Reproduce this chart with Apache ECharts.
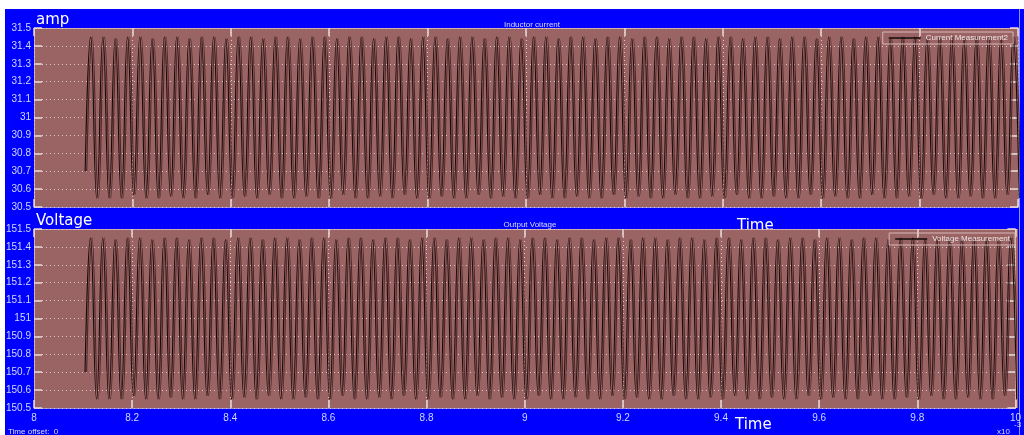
<!DOCTYPE html>
<html>
<head>
<meta charset="utf-8">
<style>
  html, body { margin: 0; padding: 0; background: #ffffff; }
  #chart { width: 1024px; height: 435px; }
</style>
<script src="https://cdn.jsdelivr.net/npm/echarts@6/dist/echarts.min.js"></script>
</head>
<body>
<div id="chart"></div>
<script>
// Time axis (units of 1e-3 s)
const xMin = 8, xMax = 10, xStep = 0.2;
// Scope samples: first sample, then alternating ripple peaks / troughs
const firstSampleTime = 8.104;
const peakTime0 = 8.115;      // time of first ripple peak
const halfPeriod = 0.0125;    // 40 kHz ripple -> 25 us period

// Inductor current (A)
const currentFirst = 30.70;
const currentPeaks = [
  31.45,31.45,31.44,31.45,31.45,31.44,31.45,31.45,31.44,31.45,
  31.45,31.44,31.45,31.45,31.44,31.45,31.45,31.44,31.45,31.45,
  31.44,31.45,31.45,31.44,31.45,31.45,31.44,31.45,31.45,31.44,
  31.45,31.45,31.44,31.45,31.45,31.44,31.45,31.45,31.44,31.45,
  31.45,31.44,31.45,31.45,31.44,31.45,31.45,31.44,31.45,31.45,
  31.44,31.45,31.45,31.44,31.45,31.45,31.44,31.45,31.45,31.44,
  31.45,31.45,31.44,31.45,31.45,31.44,31.45,31.45,31.44,31.45,
  31.45,31.44,31.45,31.45,31.44,31.45
];
const currentTroughs = [
  30.55,30.55,30.55,30.57,30.55,30.55,30.56,30.55,30.55,30.57,
  30.55,30.55,30.56,30.55,30.57,30.55,30.55,30.56,30.55,30.55,
  30.57,30.55,30.55,30.56,30.55,30.57,30.55,30.55,30.56,30.55,
  30.55,30.57,30.55,30.56,30.55,30.55,30.57,30.55,30.55,30.56,
  30.55,30.55,30.57,30.55,30.56,30.55,30.55,30.57,30.55,30.55,
  30.56,30.55,30.57,30.55,30.55,30.56,30.55,30.55,30.57,30.55,
  30.56,30.55,30.55,30.57,30.55,30.55,30.56,30.55,30.57,30.55,
  30.55,30.56,30.55,30.55,30.57,30.55
];

// Output voltage (V)
const voltageFirst = 150.70;
const voltagePeaks = [
  151.45,151.45,151.44,151.45,151.45,151.44,151.45,151.45,151.44,151.45,
  151.45,151.44,151.45,151.45,151.44,151.45,151.45,151.44,151.45,151.45,
  151.44,151.45,151.45,151.44,151.45,151.45,151.44,151.45,151.45,151.44,
  151.45,151.45,151.44,151.45,151.45,151.44,151.45,151.45,151.44,151.45,
  151.45,151.44,151.45,151.45,151.44,151.45,151.45,151.44,151.45,151.45,
  151.44,151.45,151.45,151.44,151.45,151.45,151.44,151.45,151.45,151.44,
  151.45,151.45,151.44,151.45,151.45,151.44,151.45,151.45,151.44,151.45,
  151.45,151.44,151.45,151.45,151.44,151.45
];
const voltageTroughs = [
  150.55,150.55,150.55,150.57,150.55,150.55,150.56,150.55,150.55,150.57,
  150.55,150.55,150.56,150.55,150.57,150.55,150.55,150.56,150.55,150.55,
  150.57,150.55,150.55,150.56,150.55,150.57,150.55,150.55,150.56,150.55,
  150.55,150.57,150.55,150.56,150.55,150.55,150.57,150.55,150.55,150.56,
  150.55,150.55,150.57,150.55,150.56,150.55,150.55,150.57,150.55,150.55,
  150.56,150.55,150.57,150.55,150.55,150.56,150.55,150.55,150.57,150.55,
  150.56,150.55,150.55,150.57,150.55,150.55,150.56,150.55,150.57,150.55,
  150.55,150.56,150.55,150.55,150.57,150.55
];

// Pair each peak/trough with its sample time on the 40 kHz grid
function buildTrace(firstVal, peaks, troughs) {
  const pts = [[firstSampleTime, firstVal]];
  for (let k = 0; k < peaks.length; k++) {
    pts.push([+(peakTime0 + 2 * k * halfPeriod).toFixed(5), peaks[k]]);
    pts.push([+(peakTime0 + (2 * k + 1) * halfPeriod).toFixed(5), troughs[k]]);
  }
  return pts;
}

const plotBg = '#9b6464';
const labelColor = '#cfd8ff';
const labelFont = 'Liberation Sans';
const tickColor = '#eadada';
const frameColor = 'rgba(225,200,200,0.7)';
const dotGrid = { show: true, lineStyle: { color: 'rgba(235,215,215,0.85)', width: 1, type: [1, 3] } };

// Panel boxes (pixels)
const panelLeft = 34, panelWidth = 984, panelHeight = 179;
const topPanelTop = 28, bottomPanelTop = 229;

function xAxisFor(gridIndex, pos, showLabels) {
  return {
    type: 'value', gridIndex, position: pos, min: xMin, max: xMax, interval: xStep,
    axisLine: { show: true, onZero: false, lineStyle: { color: frameColor } },
    axisTick: { show: true, inside: true, length: 8, lineStyle: { color: tickColor, width: 1.5 } },
    axisLabel: { show: showLabels, color: labelColor, fontSize: 10, fontFamily: labelFont, margin: 5,
                 formatter: v => String(+v.toFixed(1)) },
    splitLine: pos === 'bottom' ? dotGrid : { show: false }
  };
}
function yAxisFor(gridIndex, pos, lo, hi, showLabels) {
  return {
    type: 'value', gridIndex, position: pos, min: lo, max: hi, interval: 0.1,
    axisLine: { show: true, onZero: false, lineStyle: { color: frameColor } },
    axisTick: { show: true, inside: true, length: 8, lineStyle: { color: tickColor, width: 1.5 } },
    axisLabel: { show: showLabels, color: labelColor, fontSize: 10, fontFamily: labelFont, margin: 3,
                 formatter: v => String(+v.toFixed(1)) },
    splitLine: pos === 'left' ? dotGrid : { show: false }
  };
}

const traceLine = {
  color: '#150b0b', width: 1.1,
  shadowColor: 'rgba(75,35,35,0.95)', shadowOffsetX: 1.6, shadowBlur: 0
};

const bigText = { fill: '#ffffff', fontSize: 15, fontFamily: 'DejaVu Sans' };
const smallText = { fill: '#dcdcff', fontSize: 8, fontFamily: labelFont };

const chart = echarts.init(document.getElementById('chart'), null, { renderer: 'canvas' });
chart.setOption({
  backgroundColor: '#ffffff',
  animation: false,
  graphic: [
    // blue window background
    { type: 'rect', z: -100, shape: { x: 5, y: 9, width: 1019, height: 426 }, style: { fill: '#0000ff' } },
    { type: 'line', z: -99, shape: { x1: 1019.5, y1: 9, x2: 1019.5, y2: 435 }, style: { stroke: '#8f8fff', lineWidth: 1 } },
    // x-axis name of the upper panel, partly hidden behind the lower panel
    { type: 'text', z: -90, left: 737, top: 219, style: Object.assign({ text: 'Time' }, bigText) },
    // panel backgrounds
    { type: 'rect', z: -80, shape: { x: panelLeft, y: topPanelTop, width: panelWidth, height: panelHeight }, style: { fill: plotBg } },
    { type: 'rect', z: -80, shape: { x: panelLeft, y: bottomPanelTop, width: panelWidth, height: panelHeight }, style: { fill: plotBg } },
    // texts
    { type: 'text', left: 36, top: 13, style: Object.assign({ text: 'amp' }, bigText) },
    { type: 'text', left: 36, top: 214, style: Object.assign({ text: 'Voltage' }, bigText) },
    { type: 'text', left: 735, top: 418, style: Object.assign({ text: 'Time' }, bigText) },
    { type: 'text', left: 8, top: 428, style: Object.assign({ text: 'Time offset:  0' }, smallText) },
    { type: 'text', left: 997, top: 428, style: Object.assign({ text: 'x10' }, smallText) },
    { type: 'text', left: 1014, top: 421, style: Object.assign({ text: '-3' }, smallText) }
  ],
  title: [
    { text: 'Inductor current', left: 527, top: 16, textAlign: 'center',
      textStyle: { color: '#dcdcff', fontSize: 8, fontWeight: 'normal', fontFamily: labelFont } },
    { text: 'Output Voltage', left: 525, top: 216, textAlign: 'center',
      textStyle: { color: '#dcdcff', fontSize: 8, fontWeight: 'normal', fontFamily: labelFont } }
  ],
  grid: [
    { left: panelLeft, top: topPanelTop, width: panelWidth, height: panelHeight, show: false },
    { left: panelLeft, top: bottomPanelTop, width: panelWidth, height: panelHeight, show: false }
  ],
  xAxis: [
    xAxisFor(0, 'bottom', false), xAxisFor(0, 'top', false),
    xAxisFor(1, 'bottom', true), xAxisFor(1, 'top', false)
  ],
  yAxis: [
    yAxisFor(0, 'left', 30.5, 31.5, true), yAxisFor(0, 'right', 30.5, 31.5, false),
    yAxisFor(1, 'left', 150.5, 151.5, true), yAxisFor(1, 'right', 150.5, 151.5, false)
  ],
  legend: [
    { data: ['Current Measurement2'], right: 11, top: 32, orient: 'vertical',
      icon: 'rect', itemWidth: 32, itemHeight: 1.5, itemGap: 0,
      padding: [2, 5, 2, 6], borderColor: '#d8b8b8', borderWidth: 1,
      textStyle: { color: '#f0e4e4', fontSize: 8, fontFamily: labelFont } },
    { data: ['Voltage Measurement'], right: 9, top: 233, orient: 'vertical',
      icon: 'rect', itemWidth: 32, itemHeight: 1.5, itemGap: 0,
      padding: [2, 5, 2, 6], borderColor: '#d8b8b8', borderWidth: 1,
      textStyle: { color: '#f0e4e4', fontSize: 8, fontFamily: labelFont } }
  ],
  series: [
    { name: 'Current Measurement2', type: 'line', xAxisIndex: 0, yAxisIndex: 0,
      data: buildTrace(currentFirst, currentPeaks, currentTroughs),
      smooth: 0.5, showSymbol: false, symbol: 'none', clip: true,
      color: '#150b0b', lineStyle: traceLine },
    { name: 'Voltage Measurement', type: 'line', xAxisIndex: 2, yAxisIndex: 2,
      data: buildTrace(voltageFirst, voltagePeaks, voltageTroughs),
      smooth: 0.5, showSymbol: false, symbol: 'none', clip: true,
      color: '#150b0b', lineStyle: traceLine }
  ]
});
</script>
</body>
</html>
